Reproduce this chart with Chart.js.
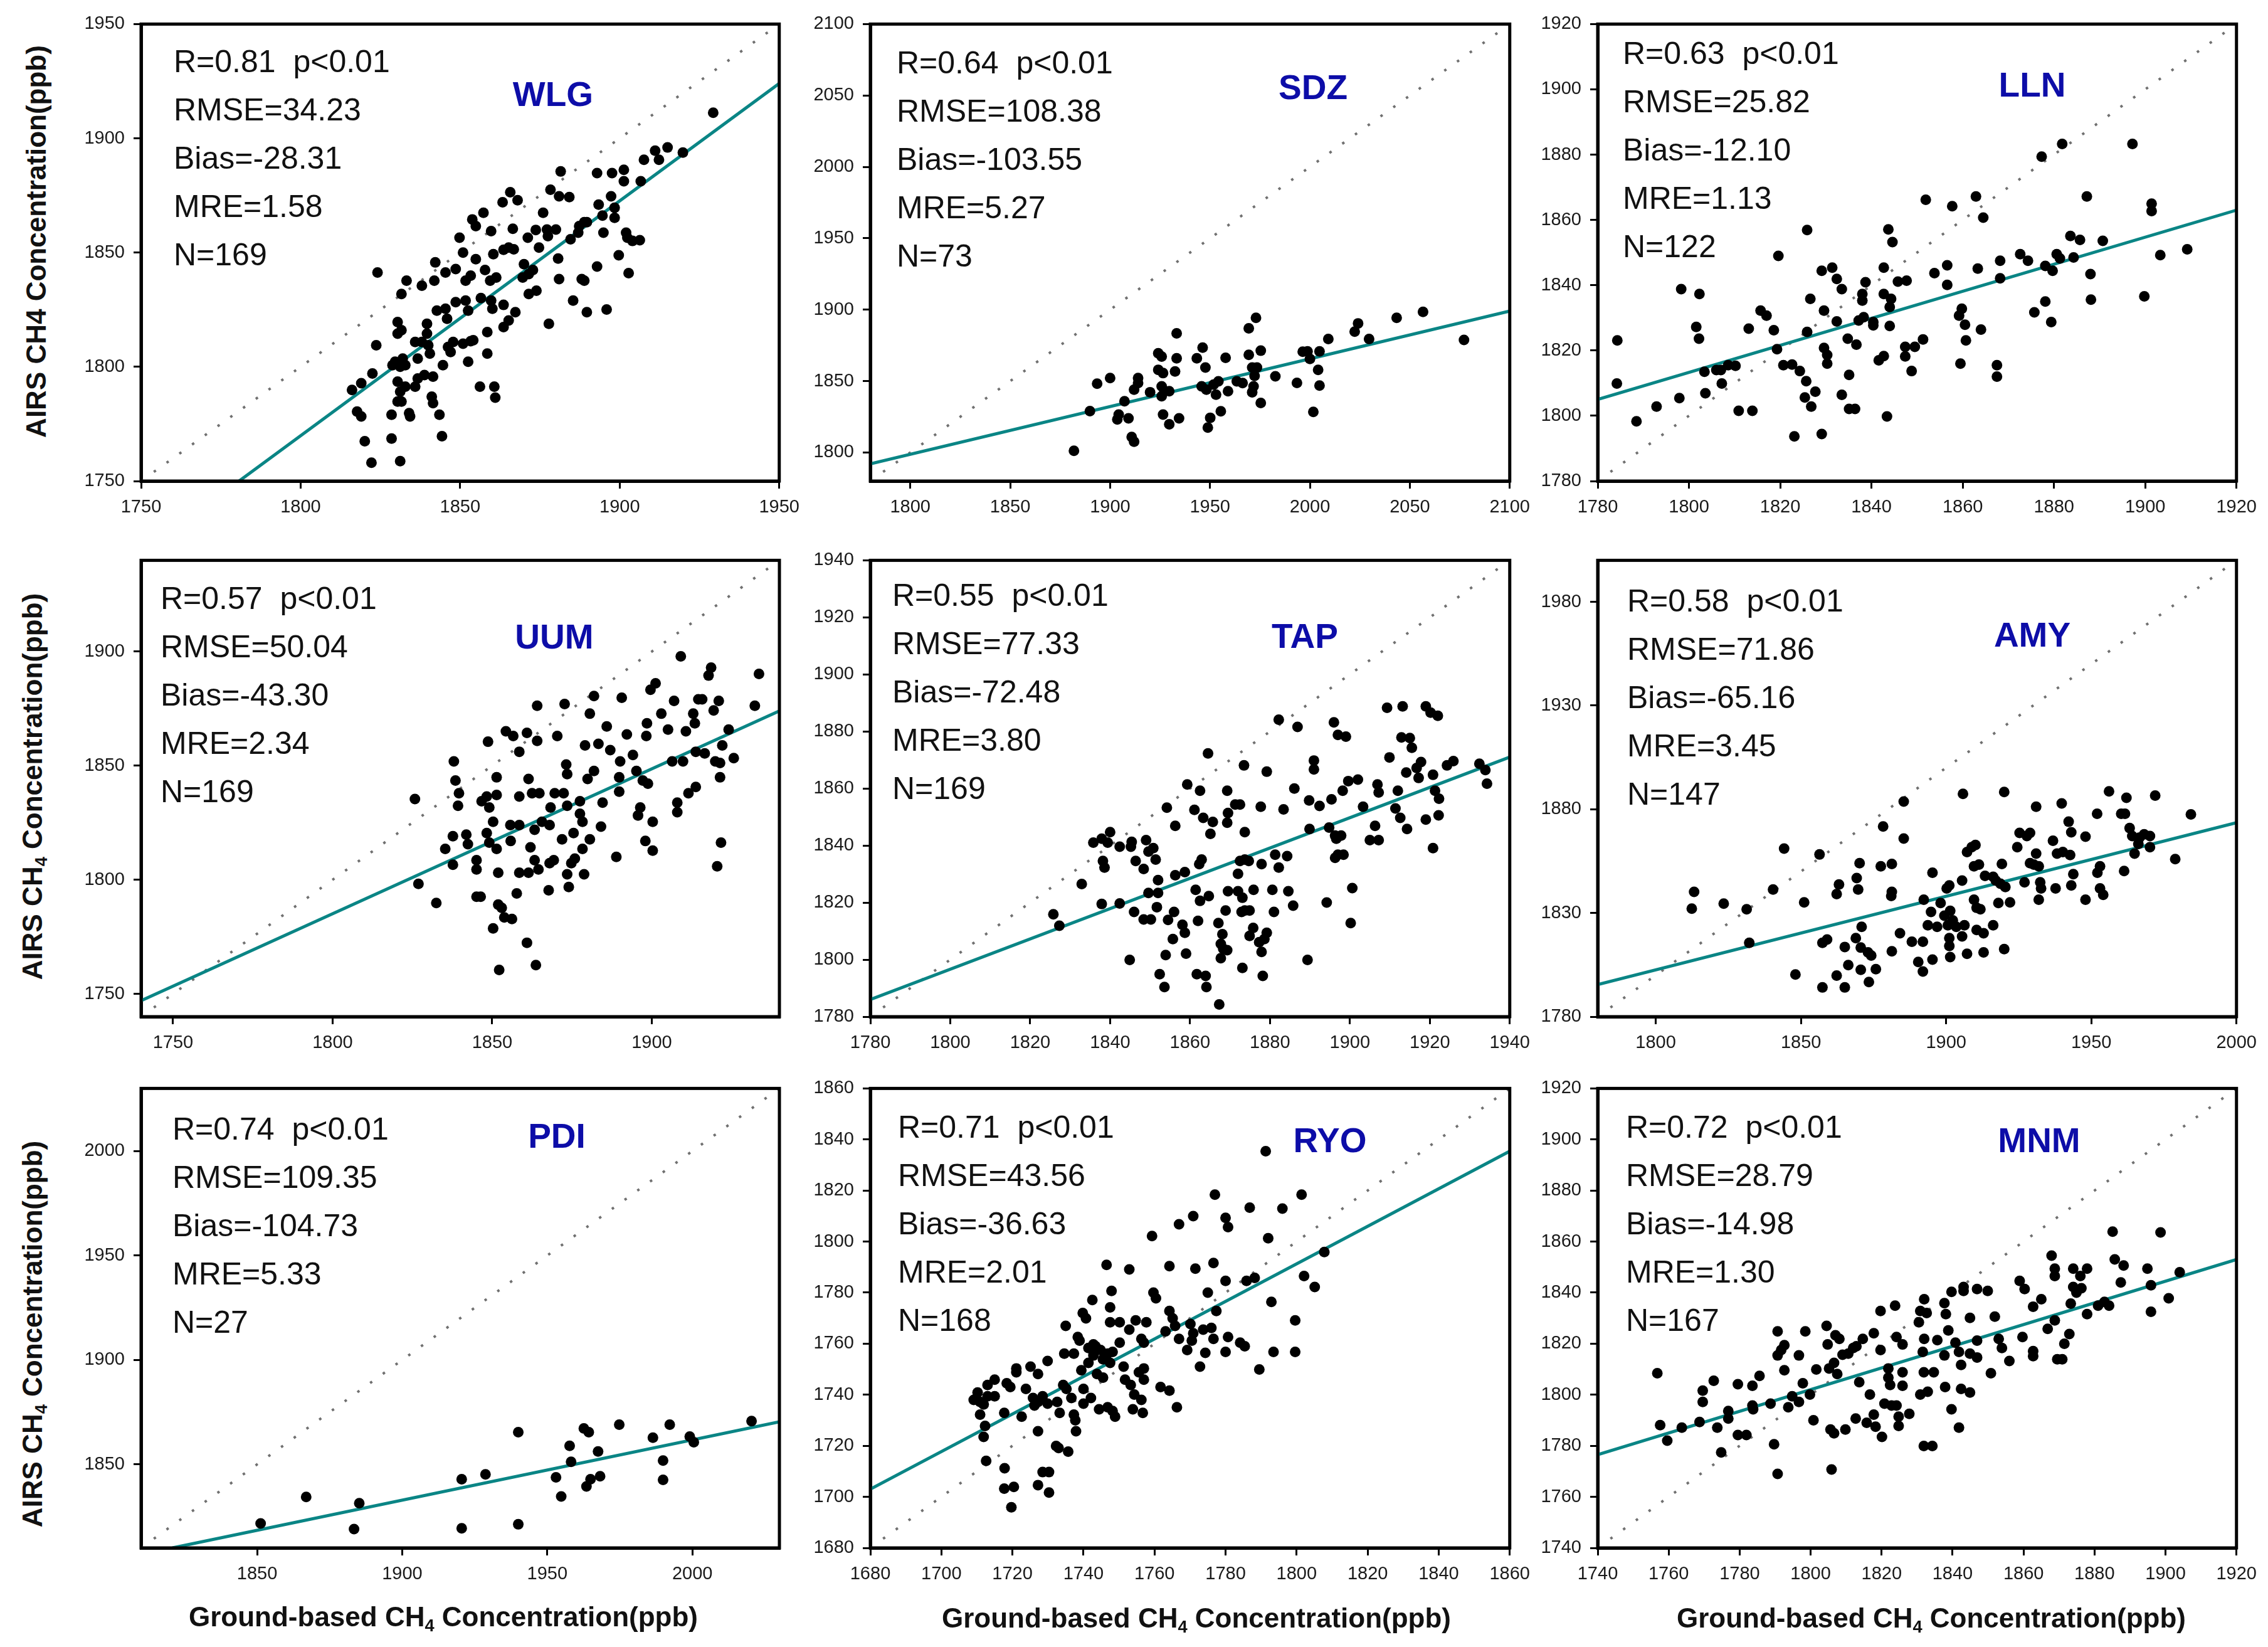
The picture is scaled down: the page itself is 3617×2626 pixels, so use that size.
<!DOCTYPE html>
<html><head><meta charset="utf-8">
<script src="https://cdn.jsdelivr.net/npm/chart.js@4.4.1/dist/chart.umd.min.js"></script>
<style>
html,body{margin:0;padding:0;background:#fff;}
#page{position:relative;width:3617px;height:2626px;overflow:hidden;background:#fff;font-family:"Liberation Sans",Arial,sans-serif;}
canvas{position:absolute;}
.stats{position:absolute;font-size:50px;line-height:77px;color:#111;white-space:pre;}
.site{position:absolute;font-size:55px;font-weight:bold;color:#0d0da8;transform:translate(-50%,-50%);white-space:nowrap;}
.ytitle{position:absolute;font-size:44px;font-weight:bold;color:#111;white-space:nowrap;transform:translate(-50%,-50%) rotate(-90deg);}
.xtitle{position:absolute;font-size:44px;font-weight:bold;color:#111;white-space:nowrap;transform:translate(-50%,-50%);}
sub{font-size:0.62em;vertical-align:-0.3em;line-height:0;}
</style></head><body><div id="page"></div>
<script>
// ---------- DATA ----------
const SITES = ['WLG','SDZ','LLN','UUM','TAP','AMY','PDI','RYO','MNM'];
const R_VAL = ['0.81','0.64','0.63','0.57','0.55','0.58','0.74','0.71','0.72'];
const RMSE  = ['34.23','108.38','25.82','50.04','77.33','71.86','109.35','43.56','28.79'];
const BIAS  = ['-28.31','-103.55','-12.10','-43.30','-72.48','-65.16','-104.73','-36.63','-14.98'];
const MRE   = ['1.58','5.27','1.13','2.34','3.80','3.45','5.33','2.01','1.30'];
const NUM   = [169,73,122,169,169,147,27,168,167];

const AXIS_MIN = [1750,1780,1780,1740,1780,1780,1810,1680,1740];
const AXIS_MAX = [1950,2100,1920,1940,1940,2000,2030,1860,1920];
const X_TICKS = [
  [1750,1800,1850,1900,1950],
  [1800,1850,1900,1950,2000,2050,2100],
  [1780,1800,1820,1840,1860,1880,1900,1920],
  [1750,1800,1850,1900],
  [1780,1800,1820,1840,1860,1880,1900,1920,1940],
  [1800,1850,1900,1950,2000],
  [1850,1900,1950,2000],
  [1680,1700,1720,1740,1760,1780,1800,1820,1840,1860],
  [1740,1760,1780,1800,1820,1840,1860,1880,1900,1920]
];
const Y_TICKS = [
  [1750,1800,1850,1900,1950],
  [1800,1850,1900,1950,2000,2050,2100],
  [1780,1800,1820,1840,1860,1880,1900,1920],
  [1750,1800,1850,1900],
  [1780,1800,1820,1840,1860,1880,1900,1920,1940],
  [1780,1830,1880,1930,1980],
  [1850,1900,1950,2000],
  [1680,1700,1720,1740,1760,1780,1800,1820,1840,1860],
  [1740,1760,1780,1800,1820,1840,1860,1880,1900,1920]
];
// regression line end points [ground, airs]
const FIT_WLG=[[1780.7,1750],[1950,1924]];
const FIT_SDZ=[[1780,1792],[2100,1899]];
const FIT_LLN=[[1780,1805],[1920,1863]];
const FIT_UUM=[[1740,1747],[1940,1874]];
const FIT_TAP=[[1780,1786],[1940,1871]];
const FIT_AMY=[[1780,1795.5],[2000,1873.5]];
const FIT_PDI=[[1820.8,1810],[2030,1870.4]];
const FIT_RYO=[[1680,1703],[1860,1835.4]];
const FIT_MNM=[[1740,1776.5],[1920,1853]];

// scatter points [ground-based, AIRS]
const PTS_WLG=[[1929.3,1911.2],[1907.6,1890.6],[1911.1,1894.6],[1912.3,1890.6],[1915,1896],[1919.8,1893.8],[1881.5,1885.5],[1892.9,1884.8],[1897.6,1884.8],[1901.3,1886.2],[1901.3,1881.2],[1906.6,1881.2],[1878.3,1877.5],[1881,1874.6],[1884.2,1874.3],[1897.3,1874.6],[1893.4,1871],[1898.4,1869.6],[1894.6,1866.2],[1898.4,1865.2],[1876,1867.4],[1865.7,1876.4],[1863.3,1872],[1868,1872.9],[1857.3,1867.4],[1853.8,1864.5],[1854.9,1861.6],[1859.7,1859.4],[1866.5,1860.4],[1873.7,1859.9],[1877.2,1860.1],[1880,1860.1],[1877.5,1857.2],[1871.2,1856.5],[1884.6,1855.8],[1887,1858.7],[1888.9,1863.3],[1887.3,1861.6],[1889.7,1863.3],[1894.9,1858.7],[1902,1858.7],[1904,1855.1],[1906.3,1855.4],[1902.4,1856.5],[1899.7,1848.8],[1902.8,1841],[1892.9,1843.9],[1888.1,1838.4],[1888.9,1837.7],[1881,1838.4],[1885.4,1829],[1889.7,1823.9],[1895.9,1825.1],[1877.8,1818.8],[1880.7,1847.4],[1874.7,1852.2],[1870,1844.9],[1869.6,1839.1],[1871.5,1840.6],[1872.8,1842.4],[1873.9,1833.3],[1871.5,1831.9],[1865.2,1852.2],[1866.8,1851.4],[1863.6,1851.2],[1860.4,1849.3],[1854.9,1847.1],[1850.9,1850],[1849.8,1856.5],[1857.8,1842.4],[1861.3,1839.1],[1859.4,1837.7],[1853.3,1839.9],[1851.7,1837.7],[1848.6,1842.8],[1845.4,1841.3],[1842.2,1845.7],[1841.9,1837.7],[1838,1835.5],[1833.2,1837.7],[1831.6,1831.9],[1824.1,1841.3],[1856.5,1830.1],[1851.7,1829],[1848.6,1828.3],[1852.5,1824.6],[1845.4,1825.4],[1842.7,1824.6],[1845.9,1821],[1859.7,1829],[1860.1,1825.4],[1863.6,1827.1],[1867.3,1823.9],[1865.2,1820.3],[1863.6,1817.4],[1858.5,1815.2],[1853.3,1811.2],[1850.9,1810.1],[1854.1,1811.6],[1847.8,1810.9],[1846.2,1808.7],[1847,1806.5],[1839.6,1818.8],[1839.6,1814.5],[1838,1810.9],[1835.9,1810.9],[1830.4,1819.6],[1831.6,1816],[1830.4,1814.5],[1840,1809.4],[1840.5,1805.8],[1836.7,1803.6],[1832,1803.6],[1829.6,1802.2],[1831.2,1800],[1832.8,1800.7],[1828.8,1800.7],[1823.7,1809.4],[1822.5,1797.1],[1819,1792.8],[1816.1,1789.9],[1830.4,1793.5],[1832.8,1791.3],[1836.7,1794.9],[1841.5,1795.7],[1838.8,1796.4],[1835.9,1791.3],[1831.2,1789.1],[1844.6,1800.7],[1852.5,1802.2],[1858.5,1805.8],[1856.2,1791.3],[1860.7,1791.3],[1861,1786.5],[1841.1,1786.9],[1841.5,1784.1],[1830.4,1784.8],[1831.6,1784.8],[1817.7,1780.4],[1819,1778.3],[1828.5,1779],[1834,1779.7],[1834.3,1778.3],[1843.5,1779],[1844.3,1769.6],[1820.1,1767.4],[1828.5,1768.6],[1822.2,1758],[1831.2,1758.7]];

const PTS_SDZ=[[1881.9,1801.2],[1889.9,1829],[1893.5,1848.2],[1900,1852.1],[1907.2,1835.9],[1904.3,1826.6],[1903.6,1823.2],[1909.2,1823.9],[1910.8,1810.9],[1912,1807.6],[1912,1844],[1914,1852.1],[1914,1848.6],[1920,1842.2],[1924.1,1869.5],[1925.8,1867.2],[1924.1,1857.9],[1926.5,1855.6],[1925.8,1846.3],[1925.8,1839.4],[1927.2,1842.9],[1929.6,1842.9],[1926.5,1826.6],[1929.6,1819.7],[1933.3,1883.4],[1933.3,1866],[1932.5,1856.7],[1934.5,1823.9],[1943.4,1866],[1946.3,1873.4],[1947.7,1859.5],[1945.8,1846.3],[1948.2,1844],[1948.9,1817.4],[1950.1,1824.3],[1951.8,1847.5],[1954.2,1849.8],[1953,1840.5],[1955.4,1828.9],[1957.8,1866.3],[1959,1842.9],[1963.4,1849.8],[1966.3,1848.6],[1969.4,1886.9],[1973,1894.3],[1969.4,1868.4],[1971.1,1859.5],[1973.5,1859.5],[1972.3,1853.7],[1971.8,1846.3],[1971.1,1842.2],[1975.4,1871.3],[1975.4,1834.7],[1982.7,1853.3],[1993.5,1848.7],[1996.4,1870.6],[1998.8,1870.8],[2000,1865.5],[2004.8,1870.8],[2004.1,1857.8],[2004.8,1846.9],[2001.7,1828.4],[2009.2,1879.5],[2022.4,1884.6],[2024.1,1890.4],[2029.6,1879.5],[2043.4,1894.3],[2056.6,1898.5],[2077.1,1878.8]];

const PTS_LLN=[[1784.3,1823.1],[1784.2,1809.9],[1788.5,1798.3],[1792.9,1802.8],[1797.9,1805.4],[1798.3,1838.8],[1802.3,1837.3],[1801.6,1827.2],[1802.2,1823.6],[1803.4,1813.5],[1803.6,1806.9],[1806,1814],[1807,1814],[1807.2,1809.9],[1808.6,1815.5],[1810.2,1815.3],[1810.9,1801.5],[1813.1,1826.7],[1813.9,1801.5],[1815.7,1832.2],[1817,1830.7],[1818.6,1826.2],[1819.6,1849],[1819.3,1820.4],[1820.7,1815.5],[1822.6,1815.7],[1824.3,1813.7],[1823.1,1793.7],[1825.7,1810.6],[1825.9,1856.9],[1825.9,1825.7],[1825.4,1805.6],[1826.8,1802.8],[1826.6,1835.8],[1827.7,1807.4],[1829.1,1844.4],[1831.4,1845.4],[1829.6,1832.2],[1829.6,1820.8],[1830.3,1818.6],[1830.3,1816],[1829.1,1794.4],[1832.4,1841.9],[1833.5,1838.8],[1832.4,1828.9],[1834.8,1823.6],[1835.1,1812.5],[1833.5,1806.4],[1835.1,1802.1],[1836.4,1802.1],[1836.7,1821.8],[1837.2,1829.2],[1838,1837.3],[1838,1835.3],[1838.7,1840.9],[1838.3,1830.2],[1840.4,1828.7],[1840.4,1827.7],[1842.7,1845.4],[1842.7,1837.3],[1841.6,1817],[1842.7,1818.3],[1843.4,1799.8],[1843.7,1857.1],[1844.6,1853.2],[1844.3,1835.8],[1844,1833.3],[1844,1827.5],[1845.8,1841.1],[1847.7,1841.4],[1847.4,1821.1],[1847.4,1818.2],[1848.8,1813.7],[1849.5,1821.1],[1851.3,1823.4],[1851.9,1866.2],[1853.8,1843.7],[1856.6,1846.1],[1856.6,1840.1],[1857.7,1864.2],[1859.2,1830.7],[1859.8,1832.8],[1860.5,1827.9],[1860.7,1823.1],[1859.5,1816],[1862.9,1867.2],[1863.3,1845.1],[1864.5,1860.7],[1864,1826.4],[1867.5,1815.5],[1867.5,1812],[1868.2,1847.5],[1868.2,1842.1],[1872.6,1849.5],[1874.3,1847.5],[1875.7,1831.7],[1877.3,1879.4],[1878.1,1845.9],[1878.1,1835],[1879.4,1828.7],[1879.7,1844.4],[1880.6,1849.5],[1881.3,1848.2],[1881.8,1883.3],[1883.6,1855.1],[1884.3,1848.5],[1885.7,1853.9],[1887.2,1867.2],[1888,1843.4],[1888.1,1835.6],[1890.7,1853.6],[1897.2,1883.3],[1899.8,1836.6],[1901.4,1865],[1901.4,1862.7],[1903.3,1849.2],[1909.2,1851]];

const PTS_UUM=[[1825.8,1835.4],[1826.9,1798.2],[1832.5,1789.8],[1835.3,1813.5],[1837.7,1806.6],[1838,1851.9],[1838.5,1843.5],[1839.6,1837.9],[1839.3,1832.4],[1837.7,1819.1],[1841.9,1819.8],[1842.4,1815.6],[1845.1,1808.6],[1845.1,1804.5],[1845.1,1792.6],[1846.4,1792.6],[1848.7,1860.5],[1846.7,1834.4],[1848.3,1836.5],[1849.1,1831.7],[1848.3,1820.5],[1849.1,1816.3],[1850.3,1825.4],[1851.4,1813.5],[1851.4,1844.9],[1851.4,1837.2],[1851.9,1803.1],[1851.9,1789.1],[1850.3,1778.7],[1852.2,1760.5],[1853,1787.7],[1853.8,1783.5],[1856.2,1782.8],[1854.3,1865.1],[1856.6,1863],[1855.8,1817],[1855.7,1824],[1858.5,1824],[1858.5,1856.1],[1858.5,1836.5],[1858.5,1803.1],[1857.7,1794],[1860.9,1864.4],[1864.1,1860.9],[1864.1,1876.3],[1861.4,1844.2],[1862,1814.2],[1862.5,1837.9],[1863.3,1821.9],[1863.3,1808.6],[1861.4,1803.1],[1864.5,1804.5],[1860.9,1772.4],[1863.7,1762.6],[1864.8,1837.9],[1865.6,1825.4],[1868,1824],[1868,1807.3],[1869.3,1808.6],[1867.7,1795.4],[1868.3,1831.7],[1870.4,1863],[1869.6,1837.9],[1872.7,1877],[1873.2,1850.5],[1873.5,1846.3],[1872.4,1837.9],[1873.5,1832.4],[1871.9,1817.7],[1875.5,1820.5],[1873.5,1802.4],[1874.8,1807.3],[1874,1796.8],[1875.9,1809.3],[1877.5,1828.9],[1878.3,1825.4],[1877.5,1834.4],[1878.3,1813.5],[1878.8,1802.4],[1879.1,1858.9],[1879.9,1844.2],[1880.6,1872.8],[1881.9,1880.5],[1881.9,1847.7],[1880.6,1817.7],[1883.3,1859.6],[1884.6,1833.8],[1884.1,1823.3],[1885.9,1867.2],[1887,1856.8],[1888.9,1810],[1890.1,1851.9],[1889.8,1844.9],[1889.8,1838.6],[1890.6,1879.8],[1892.2,1863.7],[1894.1,1854.7],[1895.2,1847.7],[1896.4,1831.7],[1895.7,1828.2],[1897.2,1843.5],[1898,1817],[1898.3,1863],[1898.5,1868.6],[1899.6,1883.3],[1901.2,1886.1],[1898.8,1842.1],[1900.3,1825.4],[1900.3,1812.8],[1903,1872.8],[1905.1,1865.8],[1906.4,1851.9],[1907,1878.4],[1908,1833.8],[1908,1829.6],[1909.1,1897.9],[1909.8,1851.9],[1910.7,1865.1],[1911.5,1837.9],[1913,1872.8],[1913.8,1840.7],[1913.5,1868.6],[1914.6,1879.1],[1915.8,1879.1],[1913.8,1856.1],[1916.6,1855.4],[1917.8,1889.5],[1918.6,1893],[1919.4,1874.2],[1919.9,1851.9],[1921,1878.4],[1921.4,1851.2],[1922.1,1858.9],[1921.4,1844.9],[1921.7,1816.3],[1920.5,1805.9],[1924.1,1865.8],[1925.7,1853.3],[1932.3,1876.3],[1933.6,1890.2]];

const PTS_TAP=[[1825.8,1815.9],[1827.3,1811.9],[1832.9,1826.5],[1835.8,1841],[1837.9,1842.4],[1840,1844.7],[1839.4,1841],[1838.2,1834.6],[1838.6,1832.3],[1837.9,1819.5],[1842.4,1819.7],[1842.4,1839.6],[1845.4,1841.3],[1845.2,1839.6],[1846.4,1834.6],[1848.4,1831.8],[1846,1816.7],[1844.9,1799.9],[1849,1841.9],[1849.6,1837.9],[1850.8,1839.1],[1851.4,1835.1],[1852,1827.9],[1852,1823.4],[1849.6,1823.4],[1851.7,1818.4],[1848.4,1814.1],[1850.2,1814.1],[1854.2,1853.3],[1854.5,1813.9],[1856,1816.7],[1855.7,1807.2],[1853.9,1801.6],[1852.4,1794.9],[1853.6,1790.4],[1856.3,1846.9],[1856.3,1829.6],[1858.7,1830.7],[1858.1,1812.2],[1858.7,1809.4],[1859,1802.1],[1859.3,1861.4],[1861.1,1852.5],[1861.4,1824.5],[1862,1813.6],[1861.7,1794.9],[1862.5,1859.2],[1862.3,1833.5],[1862.9,1835.1],[1862.5,1820.6],[1863.3,1849.7],[1863.9,1794.3],[1864.1,1790.4],[1864.5,1872.3],[1864.7,1822.3],[1865.1,1844.1],[1865.7,1848.3],[1867.1,1812.8],[1868.1,1808.9],[1867.7,1805.5],[1868.3,1803.8],[1869.3,1803.3],[1867.7,1800.5],[1867.3,1784.3],[1869.3,1859.2],[1869.5,1851.4],[1869.3,1848],[1869.5,1824],[1868.9,1817.2],[1871.3,1854.4],[1872.5,1854.4],[1873.5,1868.1],[1873.7,1844.7],[1872,1830.1],[1872.5,1834.6],[1873.7,1835.1],[1874.7,1834.6],[1872,1824],[1873.1,1821.7],[1873.7,1817.2],[1872.9,1816.7],[1874.9,1817.2],[1874.9,1808.3],[1875.8,1811.1],[1873.1,1797.1],[1875.9,1824.5],[1877.9,1833.5],[1877.7,1853.6],[1877.9,1802.7],[1877.3,1806.1],[1878.6,1807.2],[1879.2,1809.4],[1878.2,1794.3],[1879.2,1865.9],[1880.6,1824.5],[1881,1816.7],[1881.3,1836.8],[1882.2,1832.3],[1882.2,1884.1],[1883.4,1852.7],[1884.3,1836.3],[1884.6,1824],[1885.8,1818.9],[1886.1,1860],[1886.9,1881.6],[1889.8,1855.8],[1891,1869.8],[1891,1866.7],[1889.9,1845.8],[1889.4,1799.9],[1892.4,1853.9],[1894.2,1820],[1894.8,1846.3],[1895.4,1856.2],[1896,1883.2],[1896.3,1843.5],[1896.6,1842.4],[1897,1878.8],[1899,1878.2],[1896.3,1835.7],[1897,1836.8],[1898.4,1836.8],[1897.8,1843.5],[1898.2,1859.2],[1899.6,1862.6],[1900.6,1825.1],[1900.2,1812.8],[1902,1863.1],[1903.3,1853.6],[1905,1841.9],[1906.3,1846.9],[1907.2,1841.9],[1906.9,1861.4],[1907.2,1858.6],[1909.3,1888.3],[1909.9,1870.9],[1911.4,1853],[1912,1859.2],[1912.6,1849.7],[1913.2,1888.8],[1912.9,1877.9],[1915,1877.7],[1915.5,1874.3],[1914.1,1865.6],[1914.3,1845.8],[1916.7,1867.2],[1917.2,1863.7],[1917.8,1869.3],[1919,1849.1],[1919,1888.8],[1920.2,1886.6],[1922,1885.5],[1920.8,1864.8],[1921.3,1859.2],[1922.3,1856.4],[1922.2,1850.6],[1920.8,1839.1],[1924.3,1868.1],[1925.9,1869.6],[1932.4,1868.7],[1933.9,1866.5],[1934.3,1861.7]];

const PTS_AMY=[[1812.4,1832.1],[1813.2,1840.2],[1823.4,1834.5],[1831.3,1831.8],[1832.2,1815.6],[1840.4,1841.3],[1844.2,1861],[1848.1,1800.3],[1851.1,1835.1],[1856.4,1858.2],[1857.4,1815.6],[1859,1817.2],[1857.4,1794.1],[1862.3,1799.8],[1862.3,1839.1],[1863.1,1843.7],[1865.1,1813.6],[1866.3,1804.9],[1865.1,1794.1],[1869.2,1846.8],[1869.7,1841.3],[1870.2,1854],[1868.9,1817.9],[1870.9,1823.3],[1870.6,1813.3],[1873.1,1811],[1874.2,1809.5],[1870.6,1802.6],[1875.8,1802.9],[1873.4,1796.7],[1878.3,1871.7],[1877.5,1852.5],[1881.3,1853.6],[1881.3,1840.2],[1881.1,1838.2],[1881.3,1811.5],[1884.1,1820.2],[1885.4,1883.7],[1885.4,1865.9],[1888.2,1816.1],[1890.4,1806.4],[1892,1801.8],[1892.3,1836.4],[1892,1816.1],[1893.7,1824.1],[1895.3,1849.4],[1894.8,1830.5],[1895.3,1807.5],[1896.9,1823.3],[1898.1,1834.8],[1899.4,1828.7],[1900.2,1841.8],[1901.1,1843.3],[1900.6,1824.1],[1901.4,1831],[1902.3,1826.4],[1901.1,1817.9],[1901.1,1814.1],[1901.4,1808.7],[1903.5,1823.3],[1905.5,1845.6],[1905.8,1887.4],[1905.5,1818.7],[1906.3,1824.1],[1907.2,1810.3],[1907.2,1859.4],[1908.8,1861.7],[1910.1,1862.8],[1909.6,1852.5],[1911.3,1853.3],[1909.6,1836.4],[1910.5,1832.5],[1911.8,1831.8],[1910.5,1821.8],[1912.9,1820.2],[1912.9,1811],[1916.2,1824.1],[1913.4,1847.9],[1916.2,1847.4],[1917.1,1845.6],[1918.7,1844.1],[1919.2,1853.6],[1918,1834.8],[1920.4,1842.5],[1920,1888.3],[1920,1812.6],[1922,1835.1],[1924.5,1861.7],[1925.3,1868.6],[1927,1844.8],[1927.8,1867.1],[1928.9,1868.6],[1928.9,1854],[1930.2,1853.3],[1931,1881.2],[1931,1858.6],[1931.9,1852.5],[1932.4,1844.8],[1931.9,1836.4],[1932.7,1841.8],[1936.8,1864.8],[1937.7,1841.8],[1938.2,1858.6],[1939.8,1882.8],[1940.2,1859.4],[1942.2,1874],[1942.7,1857.9],[1943.1,1868.9],[1943.8,1848.7],[1943.1,1843.3],[1948,1866.8],[1948,1836.4],[1952,1877.8],[1952.1,1849.4],[1953,1852.5],[1953,1841.8],[1954.1,1838.7],[1956.1,1888.6],[1960.3,1877.8],[1962.1,1885.5],[1961.6,1877.8],[1963.2,1870.9],[1964.1,1867.1],[1964.9,1858.6],[1961.3,1850.2],[1966.6,1866.3],[1966.2,1863.3],[1968.2,1867.9],[1970.2,1867.1],[1970.2,1861.7],[1972,1886.6],[1978.9,1856],[1984.3,1877.5]];

const PTS_PDI=[[1851.2,1821.7],[1866.9,1834.4],[1883.4,1819],[1885.2,1831.4],[1920.5,1842.9],[1920.5,1819.4],[1928.7,1845.2],[1940,1865.4],[1940,1821.3],[1953,1843.8],[1954.8,1834.6],[1957.7,1858.9],[1958.2,1851.2],[1962.6,1867.2],[1964.3,1865.4],[1963.5,1839.4],[1964.9,1842.9],[1967.5,1856.2],[1968.2,1844.3],[1974.8,1869],[1986.4,1862.8],[1992.2,1869],[1989.9,1851.8],[1989.9,1842.6],[1999.1,1863.3],[2000.5,1860.6],[2020.4,1870.7]];

const PTS_RYO=[[1791.3,1835.4],[1777,1818.4],[1801.4,1818.4],[1786.8,1813.3],[1796,1812.9],[1770.9,1810],[1766.9,1806.8],[1780,1809.3],[1780.7,1805.7],[1759.3,1802.2],[1792,1801.3],[1807.8,1795.9],[1746.5,1790.9],[1752.9,1789.1],[1764.2,1790.4],[1771.5,1789.4],[1776.6,1791.6],[1780,1784.6],[1785.9,1784.6],[1788.2,1785.8],[1802.1,1786.5],[1805.1,1782.2],[1759.7,1780],[1760.4,1777.8],[1775,1780],[1792.9,1776.4],[1742.5,1777.1],[1747.9,1780.7],[1747.5,1774.2],[1739.8,1772],[1740.7,1769.9],[1735,1767],[1747.5,1768.4],[1750.2,1768.4],[1752.9,1765.5],[1754.7,1769.1],[1757.7,1768.4],[1763.1,1764.8],[1764.2,1772.8],[1765.1,1769.9],[1765.8,1767],[1766.9,1761.9],[1770.1,1767.7],[1770.9,1764.1],[1773.7,1765.5],[1776,1766.2],[1777.4,1772.8],[1776.6,1761.9],[1780.7,1762.6],[1784.1,1760.4],[1785.4,1759],[1799.6,1769.1],[1799.6,1756.8],[1793.5,1756.8],[1789.5,1749.9],[1780,1756.8],[1774.3,1756.4],[1770.5,1761.2],[1769.2,1757.5],[1772.8,1751],[1756.3,1761.9],[1757,1760.4],[1750.2,1760.4],[1738.4,1762.6],[1738.9,1761.2],[1734.6,1756.1],[1737.3,1756.1],[1729.9,1753.2],[1725.1,1751],[1727.2,1748.1],[1721.1,1750.3],[1721.1,1748.8],[1715,1745.9],[1713,1743.8],[1718.4,1744.5],[1719.4,1743],[1710.2,1740.9],[1709.1,1738],[1710.9,1737.2],[1713,1739.4],[1715,1739.4],[1711.9,1736.2],[1710.9,1732.2],[1717.7,1732.9],[1722.6,1731.4],[1723.8,1742.3],[1725.8,1738.7],[1726.2,1735.8],[1727.2,1737.2],[1728.5,1739.4],[1729.9,1736.5],[1732.6,1737.2],[1733.3,1732.9],[1734.3,1743.8],[1735.2,1742.3],[1736.6,1738.7],[1737.3,1732.2],[1737.7,1730],[1737.9,1725.7],[1735.7,1717.7],[1727.2,1725.7],[1732.3,1719.9],[1733,1719.1],[1711.9,1723.5],[1712.3,1727.8],[1712.6,1714.1],[1717.8,1711.2],[1717.7,1703.2],[1720.4,1703.9],[1719.7,1695.9],[1727.2,1704.6],[1728.5,1709.7],[1730.3,1709.7],[1730.3,1701.7],[1740,1736.5],[1742.1,1738.7],[1740,1742.3],[1739.4,1749.6],[1741.4,1752.5],[1742.8,1755.4],[1743.4,1759],[1744.8,1757.5],[1745.5,1753.9],[1746.8,1756.1],[1748.2,1756.8],[1747.5,1752.5],[1745.5,1746.7],[1743.8,1748.1],[1744.4,1734.3],[1746.8,1735.1],[1748.2,1733.6],[1748.9,1731.4],[1751.3,1751],[1751.7,1745.9],[1753.3,1743.8],[1754.3,1740.1],[1753.9,1734.3],[1756.3,1738],[1756.7,1732.9],[1757,1745.9],[1757,1750.3],[1761.7,1743],[1764.2,1741.6],[1766.3,1735.1],[1755.6,1748.8],[1742.8,1759.7],[1741.4,1758.3]];

const PTS_MNM=[[1756.8,1808.4],[1757.6,1788.1],[1759.6,1782],[1763.7,1787.1],[1768.7,1789.3],[1769.6,1801.6],[1769.6,1797.2],[1772.7,1805.5],[1773.7,1787.1],[1774.8,1777.4],[1776.8,1793.6],[1776.8,1790.7],[1779.5,1804.1],[1779.5,1784.2],[1781.9,1784.2],[1783.6,1803.5],[1783.6,1795.8],[1783.8,1794.3],[1785.6,1807.4],[1788.7,1796.5],[1789.7,1780.6],[1790.7,1769],[1790.7,1824.8],[1790.7,1815.4],[1791.7,1817.5],[1792.6,1819.4],[1792.6,1809.6],[1793.7,1795.1],[1794.8,1799.4],[1796.7,1815.4],[1796.7,1797.2],[1797.8,1804.5],[1798.5,1824.8],[1799.8,1800.1],[1800.8,1790],[1801.6,1809.9],[1804.5,1827],[1804.8,1819.7],[1805.2,1810.3],[1806.6,1812.5],[1807,1823.3],[1807.5,1808.1],[1805.6,1786.4],[1806.6,1784.9],[1805.9,1770.7],[1808.1,1821.9],[1809,1815.7],[1809.8,1786.4],[1810.6,1816.1],[1812,1818.3],[1812.9,1819],[1812.7,1790.7],[1813.7,1804.9],[1814.7,1821.9],[1815.8,1789],[1816.7,1800.1],[1817.8,1824.1],[1817.8,1792.2],[1818.3,1787.5],[1819.7,1817.5],[1819.7,1832.8],[1820.1,1783.5],[1820.8,1796.5],[1821.9,1810.3],[1821.9,1806.7],[1822.4,1803.8],[1822.8,1795.8],[1823.8,1834.9],[1824.2,1822.6],[1824.2,1795.8],[1824.8,1791.4],[1824.8,1787.8],[1825.9,1819.7],[1825.9,1808.8],[1825.9,1803.5],[1827.8,1792.5],[1830.5,1828.4],[1830.9,1832.8],[1832,1837.4],[1832,1821.9],[1831.6,1816.8],[1831.9,1808.8],[1830.9,1800.1],[1831.9,1779.9],[1832.7,1832],[1833,1801.2],[1834.3,1779.9],[1834.7,1808.8],[1835.7,1821.4],[1837.7,1835.9],[1838.1,1831.6],[1837.7,1815.4],[1838.8,1825.2],[1837.9,1803],[1839.7,1794.3],[1839.7,1840.3],[1840.8,1820.4],[1841.8,1816.8],[1842.4,1811.7],[1842.4,1802.3],[1841.8,1787.1],[1843.1,1842.2],[1843.1,1840.7],[1844.9,1830.1],[1844.9,1816.1],[1844.9,1800.9],[1846.9,1841.4],[1846.9,1821.2],[1846.9,1814.6],[1849.9,1840.7],[1850.8,1808.4],[1851.9,1830.6],[1853,1821.9],[1853.9,1818.3],[1856,1813.2],[1858.9,1844.6],[1860.3,1841.4],[1859.7,1822.6],[1862.7,1834.5],[1862.7,1817.1],[1862.7,1815.1],[1865,1837.4],[1866.8,1825.8],[1867.9,1854.5],[1868.8,1849.4],[1868.8,1846.5],[1868.8,1829.1],[1869.5,1813.9],[1870.9,1813.9],[1871.5,1820],[1872.9,1823.8],[1873.3,1835.7],[1874,1849.4],[1874,1842.2],[1874.9,1840],[1876,1846.5],[1876.3,1841.7],[1877.9,1849.4],[1877.9,1831.6],[1881,1834.9],[1882.8,1836.4],[1884.1,1834.9],[1885.1,1863.9],[1885.7,1853],[1887.4,1844],[1888.2,1850.6],[1894.9,1849.4],[1895.9,1842.9],[1895.9,1832.5],[1898.6,1863.6],[1900.9,1837.8],[1904,1848]];

const POINTS = [PTS_WLG,PTS_SDZ,PTS_LLN,PTS_UUM,PTS_TAP,PTS_AMY,PTS_PDI,PTS_RYO,PTS_MNM];
const FITS = [FIT_WLG,FIT_SDZ,FIT_LLN,FIT_UUM,FIT_TAP,FIT_AMY,FIT_PDI,FIT_RYO,FIT_MNM];

// ---------- LAYOUT (pixel geometry, styles) ----------
const COL_LEFT=[225,1388,2548], COL_W=[1018,1020,1019];
const ROW_TOP=[37,892,1734], ROW_H=[730,729,734];
const STAT_POS=[[52,61],[42,63],[40,48],[31,62],[35,57],[47,66],[50,66],[44,63],[45,63]];
const SITE_POS=[[657,113],[706,102],[693,98],[659,123],[693,122],[693,120],[663,77],[733,84],[704,84]];
const WY=130, PADT=30, PADR=45, HX=95;

Chart.defaults.font.family='"Liberation Sans", Arial, sans-serif';
const page=document.getElementById('page');

const framePlugin={id:'frame',afterDatasetsDraw(chart){const a=chart.chartArea,c=chart.ctx;c.save();c.strokeStyle='#000';c.lineWidth=5;c.strokeRect(a.left,a.top,a.right-a.left,a.bottom-a.top);c.restore();}};

function addDiv(cls,html,left,top){const d=document.createElement('div');d.className=cls;d.innerHTML=html;d.style.left=left+'px';d.style.top=top+'px';page.appendChild(d);return d;}

for(let i=0;i<9;i++){
  const r=Math.floor(i/3), c=i%3;
  const pl=COL_LEFT[c], pt=ROW_TOP[r], pw=COL_W[c], ph=ROW_H[r];
  const cv=document.createElement('canvas');
  const W=WY+pw+PADR, H=PADT+ph+HX;
  cv.width=W; cv.height=H; cv.style.width=W+'px'; cv.style.height=H+'px';
  cv.style.left=(pl-WY)+'px'; cv.style.top=(pt-PADT)+'px';
  page.appendChild(cv);
  const mn=AXIS_MIN[i], mx=AXIS_MAX[i];
  const xt=X_TICKS[i], yt=Y_TICKS[i];
  const axisCommon=(ticks,isX)=>({
    type:'linear', min:mn, max:mx,
    afterBuildTicks:s=>{s.ticks=ticks.map(v=>({value:v}));},
    afterFit:s=>{ if(isX) s.height=HX; else s.width=WY; },
    ticks:{autoSkip:false,maxRotation:0,color:'#1a1a1a',font:{size:29},padding:isX?13:14,callback:v=>String(v)},
    grid:{drawOnChartArea:false,drawTicks:true,tickLength:12,color:'#000',lineWidth:3},
    border:{display:true,color:'#000',width:5}
  });
  new Chart(cv,{
    type:'scatter',
    data:{datasets:[
      {data:POINTS[i].map(p=>({x:p[0],y:p[1]})),pointRadius:8.5,pointBackgroundColor:'#000',pointBorderWidth:0,showLine:false},
      {data:FITS[i].map(p=>({x:p[0],y:p[1]})),showLine:true,borderColor:'#0a8585',borderWidth:5,pointRadius:0,fill:false},
      {data:[{x:mn,y:mn},{x:mx,y:mx}],showLine:true,borderColor:'#707070',borderWidth:4,borderDash:[4,21],pointRadius:0,fill:false}
    ]},
    options:{
      responsive:false,animation:false,devicePixelRatio:1,
      layout:{padding:{left:0,top:PADT,right:PADR,bottom:0}},
      plugins:{legend:{display:false},tooltip:{enabled:false}},
      events:[],
      scales:{x:axisCommon(xt,true),y:axisCommon(yt,false)}
    },
    plugins:[framePlugin]
  });
  // stats text
  const lines=['R='+R_VAL[i]+'  p<0.01','RMSE='+RMSE[i],'Bias='+BIAS[i],'MRE='+MRE[i],'N='+NUM[i]];
  addDiv('stats',lines.join('\n'),pl+STAT_POS[i][0],pt+STAT_POS[i][1]-38.5);
  addDiv('site',SITES[i],pl+SITE_POS[i][0],pt+SITE_POS[i][1]);
}
// axis titles
addDiv('ytitle','AIRS CH4 Concentration(ppb)',58,385);
addDiv('ytitle','AIRS CH<sub>4</sub> Concentration(ppb)',52,1254);
addDiv('ytitle','AIRS CH<sub>4</sub> Concentration(ppb)',52,2127);
addDiv('xtitle','Ground-based CH<sub>4</sub> Concentration(ppb)',707,2578);
addDiv('xtitle','Ground-based CH<sub>4</sub> Concentration(ppb)',1908,2580);
addDiv('xtitle','Ground-based CH<sub>4</sub> Concentration(ppb)',3080,2580);
</script></body></html>
